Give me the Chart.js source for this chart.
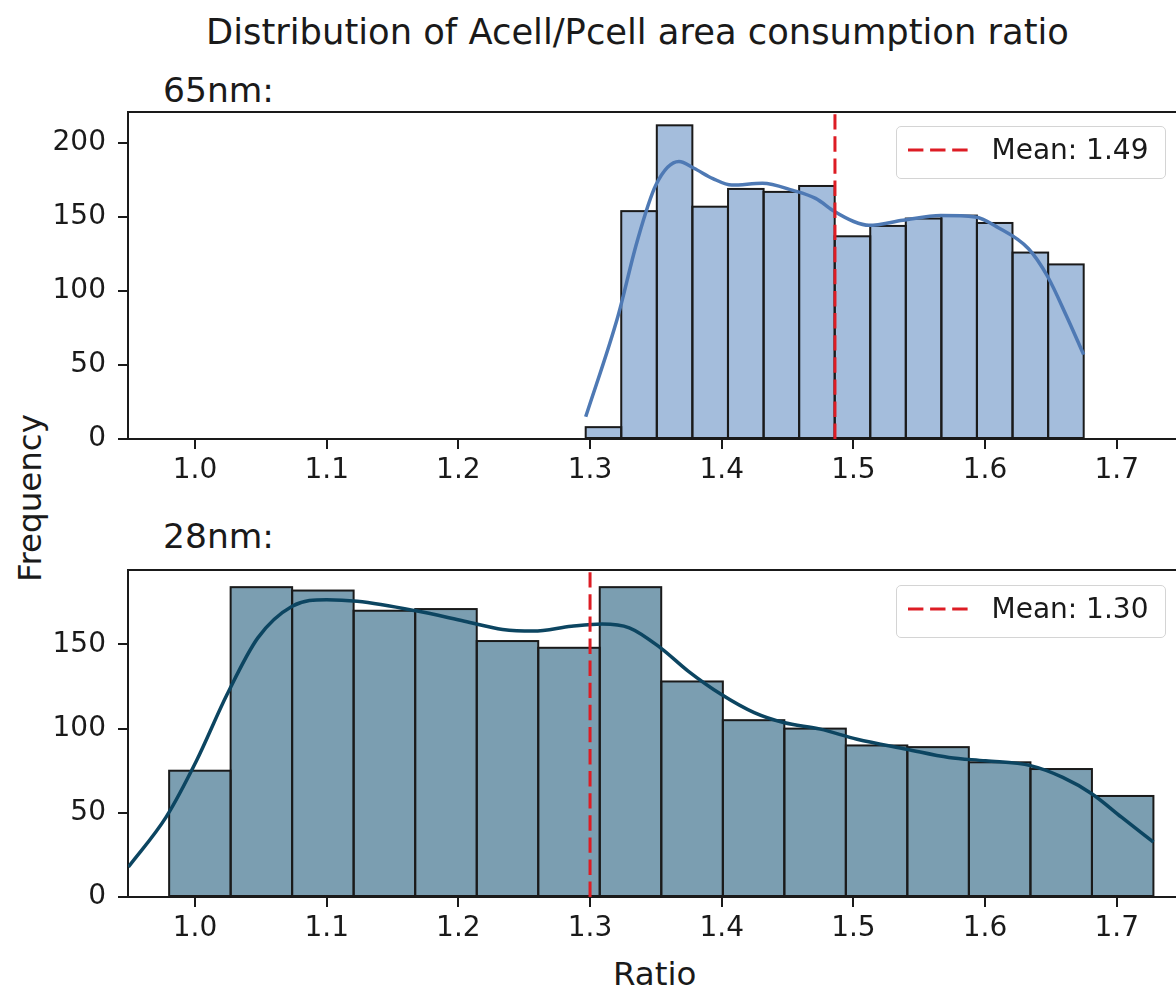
<!DOCTYPE html>
<html>
<head>
<meta charset="utf-8">
<script src="https://cdn.jsdelivr.net/npm/chart.js@4.4.1/dist/chart.umd.min.js"></script>
<style>
html, body { margin:0; padding:0; background:#fff; overflow:hidden; width:1176px; height:989px; }
body { position:relative; font-family:'DejaVu Sans', sans-serif; color:#1a1a1a; }
.t { position:absolute; white-space:nowrap; }
canvas { position:absolute; left:0; }
.lg { position:absolute; left:896px; width:270px; height:53px; box-sizing:border-box;
      border:1.5px solid #d4d4d4; border-radius:5px; background:rgba(255,255,255,0.8); }
.lg svg { position:absolute; left:9.5px; top:17.5px; }
.lg span { position:absolute; left:94.5px; top:8.8px; font-size:28px; line-height:28px; }
</style>
</head>
<body>
<div class="t" style="left:637.5px;top:14px;font-size:35.3px;line-height:35.3px;transform:translateX(-50%)">Distribution of Acell/Pcell area consumption ratio</div>
<div class="t" style="left:163px;top:73px;font-size:34.5px;line-height:34.5px">65nm:</div>
<div class="t" style="left:163px;top:519px;font-size:34.5px;line-height:34.5px">28nm:</div>
<div class="t" style="left:654.7px;top:958px;font-size:32.5px;line-height:32.5px;transform:translateX(-50%)">Ratio</div>
<div class="t" style="left:30px;top:497.5px;font-size:32.5px;line-height:32.5px;transform:translate(-50%,-50%) rotate(-90deg)">Frequency</div>

<canvas id="c65" width="1181" height="380" style="top:100px;width:1181px;height:380px"></canvas>
<canvas id="c28" width="1181" height="384" style="top:556px;width:1181px;height:384px"></canvas>

<div class="lg" style="top:126px">
  <svg width="62" height="10"><line x1="1" y1="5" x2="61" y2="5" stroke="#dd1c24" stroke-width="3" stroke-dasharray="15.4 6.7"/></svg>
  <span>Mean: 1.49</span>
</div>
<div class="lg" style="top:585px">
  <svg width="62" height="10"><line x1="1" y1="5" x2="61" y2="5" stroke="#dd1c24" stroke-width="3" stroke-dasharray="15.4 6.7"/></svg>
  <span>Mean: 1.30</span>
</div>

<script>
// shared x axis
const xTicks = [1.0, 1.1, 1.2, 1.3, 1.4, 1.5, 1.6, 1.7];
const xMin = 0.9491;
const xMax = 1.7488;

// 65nm
const bins65 = [1.3102, 1.3372, 1.3642, 1.3912, 1.4183, 1.4453, 1.4723, 1.4993, 1.5263, 1.5533, 1.5803, 1.6073, 1.6344, 1.6614];
const counts65 = [8, 154, 212, 157, 169, 167, 171, 137, 144, 149, 151, 146, 126, 118];
const kde65X = [1.2967, 1.3212, 1.3356, 1.3500, 1.3675, 1.3789, 1.3933, 1.4077, 1.4309, 1.4541, 1.4713, 1.4857, 1.5002, 1.5118, 1.5376, 1.5664, 1.5925, 1.6097, 1.6330, 1.6474, 1.6619, 1.6749];
const kde65Y = [15, 83, 133, 171.6, 187.5, 183, 176, 171.6, 172.8, 168, 162.6, 153.7, 147, 144.4, 147.8, 151, 150, 143, 128.6, 110, 83, 57];
const mean65 = 1.486;
const yTicks65 = [0, 50, 100, 150, 200];
const yMax65 = 221;

// 28nm
const bins28 = [1.0037, 1.0504, 1.0971, 1.1438, 1.1906, 1.2373, 1.2840, 1.3307, 1.3775, 1.4242, 1.4709, 1.5176, 1.5643, 1.6111, 1.6578, 1.7045];
const counts28 = [75, 184, 182, 170, 171, 152, 148, 184, 128, 105, 100, 90, 89, 80, 76, 60];
const kde28X = [0.9494, 0.978, 1.0011, 1.0244, 1.0477, 1.0738, 1.1, 1.1232, 1.1668, 1.2046, 1.2336, 1.2569, 1.2859, 1.3092, 1.3298, 1.3535, 1.3745, 1.3995, 1.4247, 1.447, 1.4749, 1.5028, 1.5405, 1.5725, 1.6004, 1.6345, 1.659, 1.6813, 1.7036, 1.7279];
const kde28Y = [17.8, 47.4, 80.9, 120.4, 153.9, 172.7, 176.6, 175.6, 170.1, 163.8, 158.9, 157.9, 160.8, 162.2, 159.9, 148, 134.2, 120.4, 109.5, 103.6, 99.7, 93.7, 87.8, 82.9, 80.9, 78, 71, 61.2, 47.4, 32.6];
const mean28 = 1.300;
const yTicks28 = [0, 50, 100, 150];
const yMax28 = 194.2;

const INK = '#1a1a1a';
const MEAN_RED = '#dd1c24';
Chart.defaults.font.family = "'DejaVu Sans', sans-serif";
Chart.defaults.color = INK;

// bar edges centred on bin edges + top spine of the axes
const frame = {
	id: 'frame',
	afterDatasetDraw: function (chart, args) {
		if (args.meta.type !== 'bar') return;
		const ctx = chart.ctx;
		ctx.save();
		ctx.strokeStyle = INK;
		ctx.lineWidth = 2;
		args.meta.data.forEach(function (b) {
			const p = b.getProps(['x', 'y', 'base', 'width'], true);
			ctx.strokeRect(p.x - p.width / 2, p.y, p.width, p.base - p.y);
		});
		ctx.restore();
	},
	afterDraw: function (chart) {
		const a = chart.chartArea, ctx = chart.ctx;
		ctx.save();
		ctx.strokeStyle = INK;
		ctx.lineWidth = 2;
		ctx.beginPath();
		ctx.moveTo(a.left - 1, a.top);
		ctx.lineTo(a.right, a.top);
		ctx.stroke();
		ctx.restore();
	}
};

function zip(xs, ys) {
	return xs.map(function (x, i) { return {x: x, y: ys[i]}; });
}

function drawHist(id, o) {
	return new Chart(document.getElementById(id), {
		type: 'bar',
		data: {
			datasets: [{
				type: 'line',
				data: [{x: o.mean, y: 0}, {x: o.mean, y: o.yMax}],
				borderColor: MEAN_RED,
				borderWidth: 3,
				borderDash: [15.4, 6.7],
				pointRadius: 0,
				order: 1
			}, {
				type: 'line',
				data: zip(o.kdeX, o.kdeY),
				borderColor: o.line,
				borderWidth: 3.5,
				cubicInterpolationMode: 'monotone',
				pointRadius: 0,
				order: 2
			}, {
				type: 'bar',
				data: zip(o.bins, o.counts),
				backgroundColor: o.fill,
				borderWidth: 0,
				barPercentage: 1,
				categoryPercentage: 1,
				order: 3
			}]
		},
		options: {
			responsive: false,
			animation: false,
			layout: {padding: {top: o.padTop, left: 0, right: 0, bottom: 0}},
			plugins: {legend: {display: false}, tooltip: {enabled: false}},
			scales: {
				x: {
					type: 'linear',
					min: xMin,
					max: xMax,
					offset: false,
					afterBuildTicks: function (s) { s.ticks = xTicks.map(function (v) { return {value: v}; }); },
					afterFit: function (s) {
						s.height = o.xAxisH;
						s.paddingLeft = 0;
						s.paddingRight = 0;
					},
					ticks: {
						font: {size: 28},
						color: INK,
						padding: 5,
						maxRotation: 0,
						autoSkip: false,
						callback: function (v) { return Number(v).toFixed(1); }
					},
					grid: {drawOnChartArea: false, drawTicks: true, tickLength: 10, color: INK, lineWidth: 2, offset: false},
					border: {display: true, color: INK, width: 2}
				},
				y: {
					type: 'linear',
					min: 0,
					max: o.yMax,
					afterBuildTicks: function (s) { s.ticks = o.yTicks.map(function (v) { return {value: v}; }); },
					afterFit: function (s) {
						s.width = 128;
						s.paddingTop = 0;
						s.paddingBottom = 0;
					},
					ticks: {font: {size: 28}, color: INK, padding: 12},
					grid: {drawOnChartArea: false, drawTicks: true, tickLength: 10, color: INK, lineWidth: 2},
					border: {display: true, color: INK, width: 2}
				}
			}
		},
		plugins: [frame]
	});
}

drawHist('c65', {
	bins: bins65, counts: counts65, kdeX: kde65X, kdeY: kde65Y,
	mean: mean65, yTicks: yTicks65, yMax: yMax65,
	fill: '#a4bddc', line: '#4e79b4', padTop: 12, xAxisH: 41
});
drawHist('c28', {
	bins: bins28, counts: counts28, kdeX: kde28X, kdeY: kde28Y,
	mean: mean28, yTicks: yTicks28, yMax: yMax28,
	fill: '#7b9eb1', line: '#0c4561', padTop: 14, xAxisH: 43
});
</script>
</body>
</html>
